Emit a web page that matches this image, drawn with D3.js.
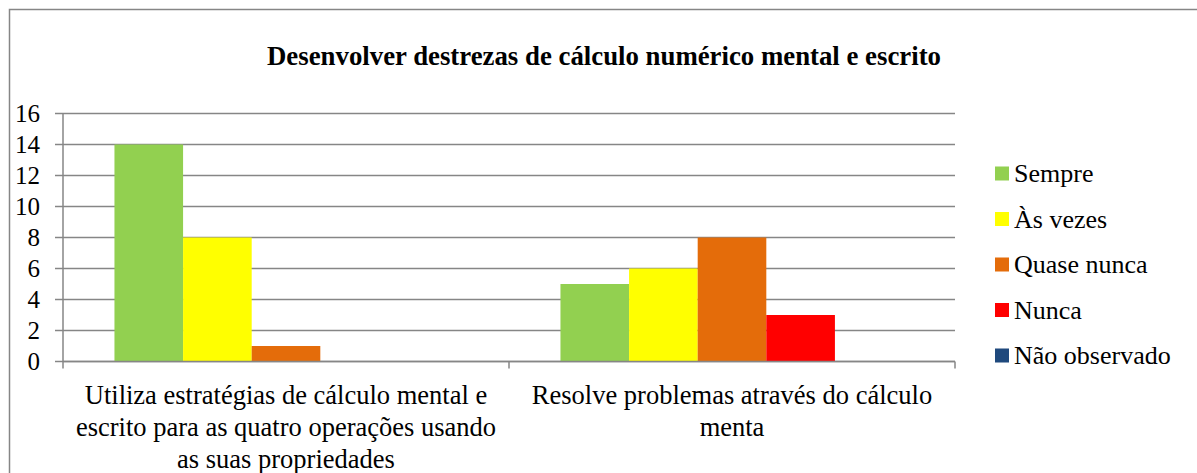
<!DOCTYPE html>
<html>
<head>
<meta charset="utf-8">
<script src="https://cdn.jsdelivr.net/npm/d3@7"></script>
<style>
  html, body { margin: 0; padding: 0; background: #fff; }
</style>
</head>
<body>
<svg id="chart" width="1197" height="473"></svg>
<script>
// Chart content
const title = "Desenvolver destrezas de cálculo numérico mental e escrito";
const categories = [
  ["Utiliza estratégias de cálculo mental e", "escrito para as quatro operações usando", "as suas propriedades"],
  ["Resolve problemas através do cálculo", "menta"]
];
const seriesNames = ["Sempre", "Às vezes", "Quase nunca", "Nunca", "Não observado"];
const seriesColors = ["#92D050", "#FFFF00", "#E46C0A", "#FF0000", "#1F497D"];
// values[s][c]: series s, category c
const values = [
  [14, 5],
  [8, 6],
  [1, 8],
  [0, 3],
  [0, 0]
];
const yTicks = [0, 2, 4, 6, 8, 10, 12, 14, 16];

const FONT = "Liberation Serif";
const svg = d3.select("#chart");

// Frame around the chart
svg.append("rect")
  .attr("x", 9.5).attr("y", 9.5)
  .attr("width", 1200).attr("height", 480)
  .attr("fill", "none").attr("stroke", "#868686").attr("stroke-width", 1.5);

const plot = { left: 63, right: 955, top: 113.5, bottom: 361.5 };

const x0 = d3.scaleBand()
  .domain(d3.range(categories.length))
  .range([plot.left, plot.right])
  .padding(0);

// Each cluster: bars of equal width with a 150% gap split on both sides
const barW = x0.bandwidth() / (seriesNames.length + 1.5);
const x1 = d3.scaleBand()
  .domain(d3.range(seriesNames.length))
  .range([barW * 0.75, barW * 0.75 + barW * seriesNames.length])
  .padding(0);

const y = d3.scaleLinear().domain([0, 16]).range([plot.bottom, plot.top]);

// Gridlines
svg.append("g")
  .selectAll("line")
  .data(yTicks)
  .join("line")
  .attr("x1", plot.left - 8).attr("x2", plot.right)
  .attr("y1", d => y(d)).attr("y2", d => y(d))
  .attr("stroke", "#868686").attr("stroke-width", 1.5);

// Y axis line
svg.append("line")
  .attr("x1", plot.left).attr("x2", plot.left)
  .attr("y1", plot.top).attr("y2", plot.bottom + 7)
  .attr("stroke", "#868686").attr("stroke-width", 1.5);

// Y tick labels
svg.append("g")
  .selectAll("text")
  .data(yTicks)
  .join("text")
  .attr("x", 40).attr("y", d => y(d))
  .attr("dy", "0.34em")
  .attr("text-anchor", "end")
  .style("font-family", FONT)
  .attr("font-size", 25)
  .attr("fill", "#000")
  .text(d => d);

// Bars
const groups = svg.append("g")
  .selectAll("g")
  .data(categories.map((c, i) => i))
  .join("g")
  .attr("transform", c => `translate(${x0(c)},0)`);

groups.selectAll("rect")
  .data(c => values.map((v, s) => ({ s, v: v[c] })))
  .join("rect")
  .attr("x", d => x1(d.s))
  .attr("width", x1.bandwidth())
  .attr("y", d => y(d.v))
  .attr("height", d => y(0) - y(d.v))
  .attr("fill", d => seriesColors[d.s]);

// X axis line and category ticks
svg.append("line")
  .attr("x1", plot.left).attr("x2", plot.right)
  .attr("y1", plot.bottom).attr("y2", plot.bottom)
  .attr("stroke", "#868686").attr("stroke-width", 1.5);

const xTickPos = categories.map((c, i) => x0(i) + x0.bandwidth());
svg.append("g")
  .selectAll("line")
  .data(xTickPos)
  .join("line")
  .attr("x1", d => d).attr("x2", d => d)
  .attr("y1", plot.bottom).attr("y2", plot.bottom + 7)
  .attr("stroke", "#868686").attr("stroke-width", 1.5);

// Category labels
svg.append("g")
  .selectAll("text")
  .data(categories)
  .join("text")
  .attr("text-anchor", "middle")
  .style("font-family", FONT)
  .attr("font-size", 26.5)
  .attr("fill", "#000")
  .each(function (lines, i) {
    d3.select(this).selectAll("tspan")
      .data(lines)
      .join("tspan")
      .attr("x", x0(i) + x0.bandwidth() / 2)
      .attr("y", (d, k) => 403.5 + k * 32)
      .text(d => d);
  });

// Title
svg.append("text")
  .attr("x", 604).attr("y", 64.5)
  .attr("text-anchor", "middle")
  .style("font-family", FONT)
  .attr("font-size", 26.8)
  .attr("font-weight", "bold")
  .attr("fill", "#000")
  .text(title);

// Legend
const legend = svg.append("g")
  .selectAll("g")
  .data(seriesNames)
  .join("g")
  .attr("transform", (d, i) => `translate(995,${173.5 + i * 45.5})`);

legend.append("rect")
  .attr("x", 0).attr("y", -7)
  .attr("width", 14).attr("height", 14)
  .attr("fill", (d, i) => seriesColors[i]);

legend.append("text")
  .attr("x", 19).attr("y", 0)
  .attr("dy", "0.34em")
  .style("font-family", FONT)
  .attr("font-size", 26)
  .attr("fill", "#000")
  .text(d => d);
</script>
</body>
</html>
